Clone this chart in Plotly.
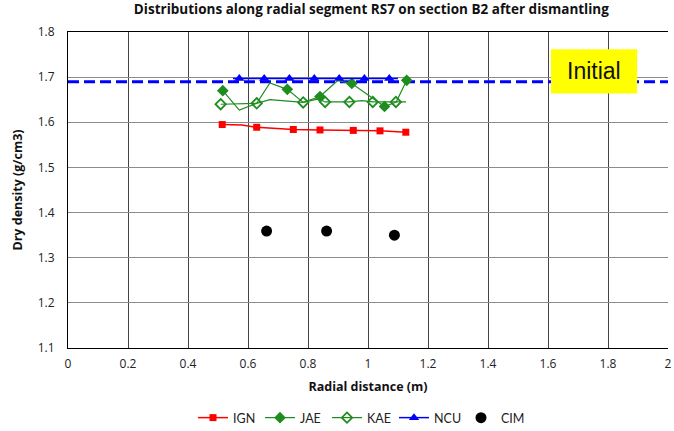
import plotly.graph_objects as go

# ---- data ----
ign_line_x = [0.514, 0.58, 0.629, 0.751, 0.84, 0.951, 1.04, 1.126]
ign_line_y = [1.595, 1.594, 1.589, 1.584, 1.583, 1.582, 1.581, 1.578]
ign_mark_x = [0.514, 0.629, 0.751, 0.84, 0.951, 1.04, 1.126]
ign_mark_y = [1.595, 1.589, 1.584, 1.583, 1.582, 1.581, 1.578]

jae_line_x = [0.516, 0.571, 0.629, 0.673, 0.731, 0.784, 0.84, 0.898, 0.946, 1.055, 1.094, 1.129]
jae_line_y = [1.670, 1.627, 1.642, 1.687, 1.673, 1.644, 1.657, 1.692, 1.686, 1.635, 1.645, 1.693]
jae_mark_x = [0.516, 0.731, 0.84, 0.946, 1.055, 1.129]
jae_mark_y = [1.670, 1.673, 1.657, 1.686, 1.635, 1.693]

kae_line_x = [0.509, 0.629, 0.673, 0.784, 0.835, 0.857, 0.938, 0.98, 1.016, 1.093, 1.127]
kae_line_y = [1.640, 1.642, 1.650, 1.644, 1.652, 1.645, 1.645, 1.648, 1.645, 1.645, 1.645]
kae_mark_x = [0.509, 0.629, 0.784, 0.857, 0.938, 1.016, 1.093]
kae_mark_y = [1.640, 1.642, 1.644, 1.645, 1.645, 1.645, 1.645]

ncu_line_x = [0.55, 1.10]
ncu_line_y = [1.697, 1.697]
ncu_mark_x = [0.571, 0.654, 0.738, 0.821, 0.904, 0.988, 1.071]
ncu_mark_y = [1.697, 1.697, 1.697, 1.697, 1.697, 1.697, 1.697]

cim_x = [0.662, 0.862, 1.088]
cim_y = [1.359, 1.359, 1.350]

initial_x = [0, 2]
initial_y = [1.69, 1.69]

x_ticks = [0, 0.2, 0.4, 0.6, 0.8, 1, 1.2, 1.4, 1.6, 1.8, 2]
x_tick_labels = ["0", "0.2", "0.4", "0.6", "0.8", "1", "1.2", "1.4", "1.6", "1.8", "2"]
y_ticks = [1.1, 1.2, 1.3, 1.4, 1.5, 1.6, 1.7, 1.8]
y_tick_labels = ["1.1", "1.2", "1.3", "1.4", "1.5", "1.6", "1.7", "1.8"]

title_text = "Distributions along radial segment RS7 on section B2 after dismantling"
x_title = "Radial distance (m)"
y_title = "Dry density (g/cm3)"
annot_text = "Initial"

RED = "#FF0000"
GREEN = "#1E8C1E"
BLUE = "#0000FF"
FONT = "Open Sans"

fig = go.Figure()

# initial dashed line
fig.add_trace(go.Scatter(x=initial_x, y=initial_y, mode="lines",
                         line=dict(color=BLUE, width=3, dash="11px,5px"),
                         showlegend=False, hoverinfo="skip"))

series = [
    ("IGN", ign_line_x, ign_line_y, ign_mark_x, ign_mark_y, RED, 1.5,
     dict(symbol="square", size=7, color=RED)),
    ("JAE", jae_line_x, jae_line_y, jae_mark_x, jae_mark_y, GREEN, 1.2,
     dict(symbol="diamond", size=9, color=GREEN)),
    ("KAE", kae_line_x, kae_line_y, kae_mark_x, kae_mark_y, GREEN, 1.2,
     dict(symbol="diamond-open", size=8, color=GREEN, line=dict(width=1.8, color=GREEN))),
    ("NCU", ncu_line_x, ncu_line_y, ncu_mark_x, ncu_mark_y, BLUE, 1.5,
     dict(symbol="triangle-up", size=9, color=BLUE)),
]

for name, lx, ly, mx, my, col, lw, mk in series:
    fig.add_trace(go.Scatter(x=lx, y=ly, mode="lines", line=dict(color=col, width=lw),
                             showlegend=False, legendgroup=name))
    fig.add_trace(go.Scatter(x=mx, y=my, mode="markers", marker=mk,
                             showlegend=False, legendgroup=name))
    fig.add_trace(go.Scatter(x=[None], y=[None], mode="lines+markers", name=name,
                             line=dict(color=col, width=lw), marker=mk, legendgroup=name))

fig.add_trace(go.Scatter(x=cim_x, y=cim_y, mode="markers", name="CIM",
                         marker=dict(symbol="circle", size=11, color="black")))

# Initial label box
fig.add_shape(type="rect", xref="x", yref="y", x0=1.61, x1=1.897, y0=1.664, y1=1.762,
              fillcolor="#FFFF00", line=dict(width=0), layer="above")
fig.add_annotation(x=1.7535, y=1.713, xref="x", yref="y", text=annot_text, showarrow=False,
                   font=dict(family="Liberation Sans", size=23, color="#111"))

fig.update_layout(
    width=674, height=431,
    margin=dict(l=68, r=6, t=32, b=83, autoexpand=False),
    paper_bgcolor="white", plot_bgcolor="white",
    font=dict(family=FONT, size=12, color="#222"),
    title=dict(text="<b>" + title_text + "</b>", x=0.551, xanchor="center", y=0.978, yanchor="middle",
               font=dict(family=FONT, size=13.5, color="#111")),
    showlegend=True,
    legend=dict(orientation="h", x=(193 - 68) / 600, xanchor="left", y=-(418 - 348) / 316,
                yanchor="middle", entrywidth=22, entrywidthmode="pixels",
                font=dict(family="Lato", size=12.5, color="#222"), itemwidth=30,
                bgcolor="rgba(0,0,0,0)"),
)

fig.update_xaxes(range=[0, 2], tickvals=x_ticks, ticktext=x_tick_labels,
                 showgrid=True, gridcolor="#444", gridwidth=1,
                 showline=True, linecolor="black", linewidth=1, mirror=True,
                 zeroline=False, ticks="", ticklabelstandoff=5,
                 title=dict(text="<b>" + x_title + "</b>", font=dict(family=FONT, size=12.5, color="#111"),
                            standoff=10))
fig.update_yaxes(range=[1.1, 1.8], tickvals=y_ticks, ticktext=y_tick_labels,
                 showgrid=True, gridcolor="#8c8c8c", gridwidth=1,
                 showline=True, linecolor="black", linewidth=1,
                 zeroline=False, ticks="", ticklabelstandoff=10,
                 title=dict(text="<b>" + y_title + "</b>", font=dict(family=FONT, size=12.5, color="#111"),
                            standoff=12))

fig.write_html("out.html")
